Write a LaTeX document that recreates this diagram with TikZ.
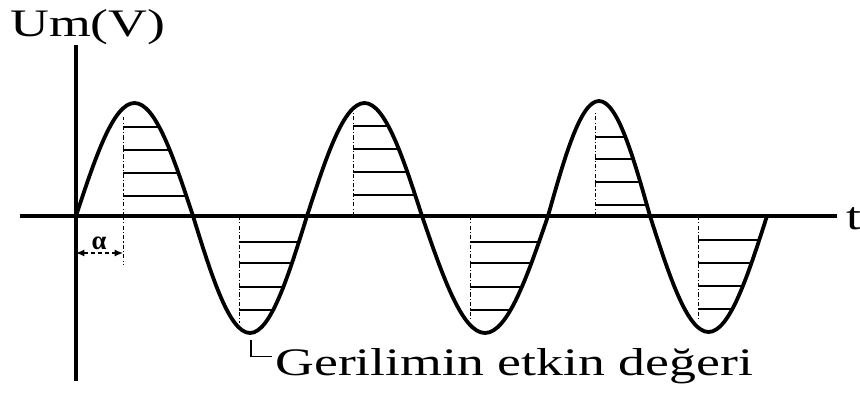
\documentclass[tikz,border=0pt]{standalone}
\usepackage{fontspec}
\setmainfont{Liberation Serif}
\usetikzlibrary{arrows.meta}

\tikzset{
  axisline/.style={line width=2.6pt},
  wave/.style={line width=2.7pt, line cap=round, line join=round},
  hatch/.style={line width=0.8pt},
  guide/.style={line width=0.7pt, dash pattern=on 3pt off 1.5pt on 0.8pt off 1.5pt},
  bigtext/.style={font=\fontsize{27.7}{30}\selectfont, inner sep=0pt, xscale=1.38},
  smalltext/.style={font=\fontsize{19}{19}\selectfont\bfseries, inner sep=0pt},
  phase/.style={line width=0.8pt, densely dashed, >={Latex[length=6pt,width=5pt]}, <->},
}

\begin{document}
\begin{tikzpicture}
    \useasboundingbox (-1.9,-4.45) rectangle (19.6,5.4);

    % axes
    \coordinate (O) at (0,0);
    \coordinate (xl) at (-1.4,0);
    \coordinate (xr) at (19.025,0);
    \coordinate (yt) at (0,4.275);
    \coordinate (yb) at (0,-4.125);
    \draw[axisline] (xl) -- (xr);
    \draw[axisline] (yt) -- (yb);

    % labels
    \node[smalltext] (alab) at (0.575,-0.675) {α};
    \node[bigtext, anchor=base west] (ylab) at (-1.65,4.475) {Um(V)};
    \node[bigtext, anchor=base west] (tlab) at (19.25,-0.35) {t};
    \node[bigtext, anchor=base west] (lbl) at (4.975,-4.0) {Gerilimin etkin değeri};

    % hatching of each half wave
    \foreach \xa/\xb/\ym/\xv/\yv/\lvls in {
        0/2.925/2.825/1.175/2.475/{2.225,1.65,1.075,0.5},
        2.925/5.775/-2.925/4.075/-2.675/{-0.65,-1.175,-1.775,-2.35},
        5.775/8.65/2.825/6.925/2.6/{2.25,1.675,1.1,0.525},
        8.65/11.8/-2.925/9.85/-2.6/{-0.65,-1.175,-1.775,-2.35},
        11.8/14.35/2.875/12.975/2.575/{1.975,1.425,0.85,0.275},
        14.35/17.275/-2.9/15.55/-2.6/{-0.6,-1.175,-1.75,-2.325}}{
        \begin{scope}
            \clip (\xa,0) sin ({(\xa+\xb)/2},\ym) cos (\xb,0) -- cycle;
            \foreach \yh in \lvls \draw[hatch] (\xv,\yh) -- (\xb,\yh);
        \end{scope}
        \draw[guide] (\xv,0) -- (\xv,\yv);
    }

    % sine wave
    \draw[wave] (O) sin (1.4625,2.825) cos (2.925,0) sin (4.35,-2.925) cos (5.775,0)
        sin (7.2125,2.825) cos (8.65,0) sin (10.225,-2.925) cos (11.8,0)
        sin (13.075,2.875) cos (14.35,0) sin (15.8125,-2.9) cos (17.275,0);

    % phase angle
    \coordinate (a1) at (0,-0.925);
    \coordinate (a2) at (1.175,-0.925);
    \draw[guide] (1.175,0) -- (1.175,-1.225);
    \draw[phase] (a1) -- (a2);

    % leader to the label
    \coordinate (dip) at (4.375,-3.1);
    \draw[hatch] (dip) |- ([xshift=-0.075cm,yshift=0.25cm]lbl.west);
\end{tikzpicture}
\end{document}
